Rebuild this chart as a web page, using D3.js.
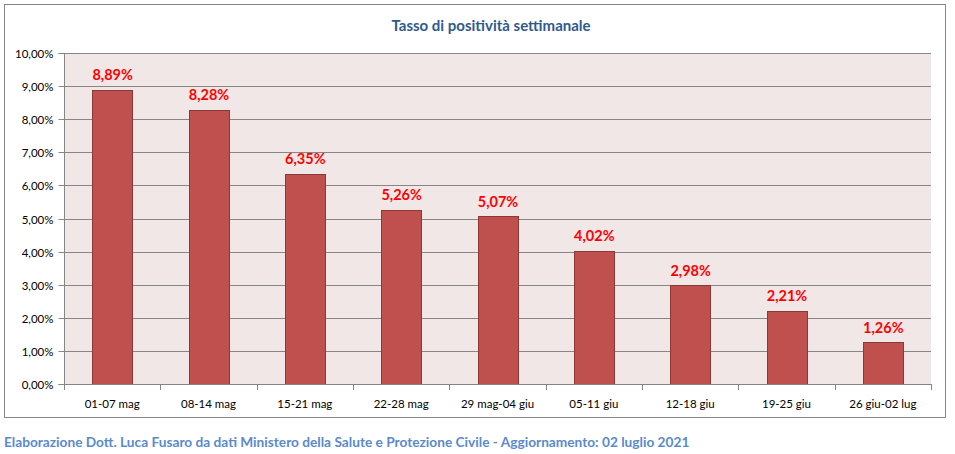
<!DOCTYPE html>
<html><head><meta charset="utf-8">
<script src="https://cdn.jsdelivr.net/npm/d3@7"></script>
<style>
html,body{margin:0;padding:0;background:#fff;}
svg{display:block;}
</style></head>
<body>
<svg id="c" width="955" height="454"></svg>
<script>
const categories = ["01-07 mag","08-14 mag","15-21 mag","22-28 mag","29 mag-04 giu","05-11 giu","12-18 giu","19-25 giu","26 giu-02 lug"];
const values = [8.89, 8.28, 6.35, 5.26, 5.07, 4.02, 2.98, 2.21, 1.26];
const yTicks = [0,1,2,3,4,5,6,7,8,9,10];
const title = "Tasso di positività settimanale";
const footer = "Elaborazione Dott. Luca Fusaro da dati Ministero della Salute e Protezione Civile - Aggiornamento: 02 luglio 2021";

const font = "Lato, 'Open Sans', sans-serif";
const svg = d3.select("#c");
const m = {left:64, right:931, top:53, bottom:384};
const fmt = v => v.toFixed(2).replace(".", ",") + "%";

svg.append("rect").attr("x",4.5).attr("y",4.5).attr("width",941).attr("height",413)
  .attr("fill","#fff").attr("stroke","#868686").attr("stroke-width",1);

const x = d3.scaleBand().domain(categories).range([m.left,m.right]).paddingInner(0.585).paddingOuter(0.2925);
const y = d3.scaleLinear().domain([0,10]).range([m.bottom,m.top]);

svg.append("rect").attr("x",m.left).attr("y",m.top).attr("width",m.right-m.left).attr("height",m.bottom-m.top)
  .attr("fill","#F2E7E7");

// gridlines
svg.append("g").selectAll("line").data(yTicks.filter(d=>d>0)).join("line")
  .attr("x1",m.left).attr("x2",m.right)
  .attr("y1",d=>Math.round(y(d))+0.5).attr("y2",d=>Math.round(y(d))+0.5)
  .attr("stroke","#868686").attr("stroke-width",1);

// bars
svg.append("g").selectAll("rect").data(values).join("rect")
  .attr("x",(d,i)=>Math.round(x(categories[i]))+0.5)
  .attr("y",d=>Math.round(y(d))+0.5)
  .attr("width",Math.round(x.bandwidth()))
  .attr("height",d=>Math.round(y(0))-Math.round(y(d)))
  .attr("fill","#C0504D").attr("stroke","#8C3836").attr("stroke-width",1);

// value labels
svg.append("g").selectAll("text").data(values).join("text")
  .attr("x",(d,i)=>x(categories[i])+x.bandwidth()/2+0.5)
  .attr("y",d=>y(d)-9.5)
  .attr("text-anchor","middle")
  .attr("font-family",font).attr("font-weight","bold").attr("font-size",14.5)
  .attr("fill","#FF0000").text(d=>fmt(d));

// y axis
const yAxis = d3.axisLeft(y).tickValues(yTicks).tickFormat(d=>fmt(d)).tickSize(6).tickPadding(5);
const gy = svg.append("g").attr("transform",`translate(${m.left+0.5},0.5)`).call(yAxis);
gy.select(".domain").attr("stroke","#868686").attr("d",`M-6,${Math.round(y(10))}H0V${Math.round(y(0))}H-6`);
gy.selectAll(".tick").attr("transform",d=>`translate(0,${Math.round(y(d))})`);
gy.selectAll(".tick line").attr("stroke","#868686");
gy.selectAll(".tick text").attr("font-family",font).attr("font-size",11.5).attr("fill","#000").attr("dy","0.35em").attr("x",-11);

// x axis
const bounds = d3.range(categories.length+1).map(i=>m.left+(m.right-m.left)*i/categories.length);
svg.append("line").attr("x1",m.left).attr("x2",m.right).attr("y1",Math.round(y(0))+0.5).attr("y2",Math.round(y(0))+0.5)
  .attr("stroke","#868686");
svg.append("g").selectAll("line").data(bounds).join("line")
  .attr("x1",d=>Math.round(d)+0.5).attr("x2",d=>Math.round(d)+0.5)
  .attr("y1",Math.round(y(0))).attr("y2",Math.round(y(0))+6)
  .attr("stroke","#868686");
svg.append("g").selectAll("text").data(categories).join("text")
  .attr("x",d=>x(d)+x.bandwidth()/2)
  .attr("y",408)
  .attr("text-anchor","middle")
  .attr("font-family",font).attr("font-size",11.5).attr("fill","#000").text(d=>d);

// title
svg.append("text").attr("x",491).attr("y",31).attr("text-anchor","middle")
  .attr("font-family",font).attr("font-weight","bold").attr("font-size",15)
  .attr("fill","#305A8C").text(title);

// footer
svg.append("text").attr("x",4).attr("y",447)
  .attr("font-family",font).attr("font-weight","bold").attr("font-size",13.7)
  .attr("fill","#5B8ACB").text(footer);
</script>
</body></html>
